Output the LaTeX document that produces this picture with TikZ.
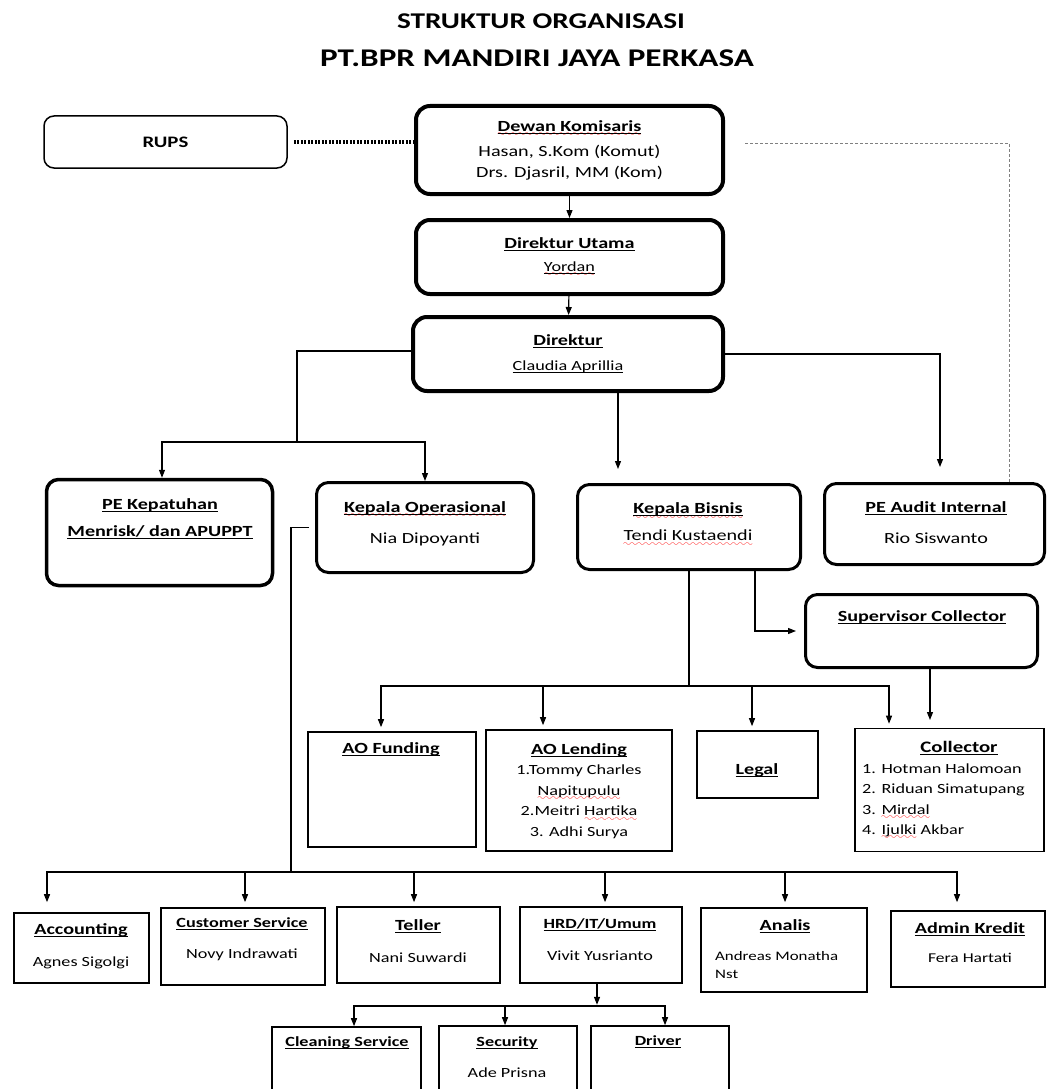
\documentclass[tikz,border=0pt]{standalone}
\usepackage{fontspec}
\setmainfont{Carlito}[FakeStretch=1.3]
\usetikzlibrary{arrows.meta,positioning}

\font\tenly=lasy10
\newbox\sqbox
\newcommand\undl[1]{\setbox\sqbox\hbox{#1}\leavevmode\rlap{\rule[-2.4pt]{\wd\sqbox}{0.9pt}}\box\sqbox}
\newcommand\redsq[1]{\setbox\sqbox\hbox{#1}\leavevmode\rlap{\textcolor{red}{\lower5.2pt\hbox to\wd\sqbox{\xleaders\hbox{\tenly\char58}\hfil}}}\box\sqbox}
\newcommand\fsz[1]{\fontsize{#1}{20.5}\selectfont}

\begin{document}
\begin{tikzpicture}[x=1pt,y=-1pt,
  bigbox/.style={draw,rounded corners=14pt,line width=4pt},
  midbox/.style={draw,rounded corners=12pt,line width=3pt},
  flatbox/.style={draw,line width=1.6pt},
  txt/.style={align=center,font=\fsz{15.5}},
  sml/.style={align=center,font=\fsz{14}},
  conn/.style={line width=1.2pt},
  arr/.style={line width=1.2pt,-{Triangle[length=8pt,width=6pt]}},
  dotline/.style={line width=3pt,dash pattern=on 2pt off 1.5pt},
  dashline/.style={line width=0.9pt,gray,dash pattern=on 3pt off 2pt},
  every node/.style={inner sep=0pt}]

\fill[white] (0,0) rectangle (1048,1089);
\useasboundingbox (0,0) rectangle (1048,1089);
\clip (0,0) rectangle (1048,1089);

% judul
\node[font=\bfseries\fsz{22.5}] (judul) at (541,21) {STRUKTUR ORGANISASI};
\node[font=\bfseries\fsz{25.5}] (pt) at (537,58) {PT.BPR MANDIRI JAYA PERKASA};

% pimpinan
\node[draw,rounded corners=10pt,line width=1.5pt,minimum width=243pt,minimum height=52pt,font=\bfseries\fsz{16}] (rups) at (165.5,142) {RUPS};
\node[bigbox,minimum width=307pt,minimum height=88pt,txt] (dewan) at (569.5,150) {\redsq{\undl{\textbf{Dewan Komisaris}}}\\[5pt]Hasan, S.Kom (Komut)\\Drs. Djasril, MM (Kom)};
\node[bigbox,minimum width=307pt,minimum height=74pt,txt] (dirut) at (569.5,257) {\undl{\textbf{Direktur Utama}}\\[3pt]{\fsz{14}\redsq{\undl{Yordan}}}};
\node[bigbox,minimum width=310pt,minimum height=74pt,txt] (dir) at (568,354) {\undl{\textbf{Direktur}}\\[4.5pt]{\fsz{14}\undl{Claudia Aprillia}}};

% kepala
\node[midbox,line width=3.5pt,minimum width=226pt,minimum height=106pt] (kep) at (159.5,532.5) {};
\node[txt,font=\bfseries\fsz{15.5}] (kep-t) at (160,518.5) {\undl{PE Kepatuhan}\\[6.5pt]\undl{Menrisk/ dan APUPPT}};
\node[midbox,minimum width=217pt,minimum height=90pt] (kops) at (425,527.5) {};
\node[txt] (kops-t) at (425,523.5) {\redsq{\undl{\textbf{Kepala Operasional}}}\\[10.5pt]Nia Dipoyanti};
\node[midbox,minimum width=223pt,minimum height=85pt] (kbis) at (689,527) {};
\node[txt] (kbis-t) at (688,524.5) {\redsq{\undl{\textbf{Kepala Bisnis}}}\\[6.5pt]\redsq{Tendi Kustaendi}};
\node[midbox,minimum width=220pt,minimum height=81pt] (audit) at (934.5,524) {};
\node[txt] (audit-t) at (936,522.5) {\undl{\textbf{PE Audit Internal}}\\[10.5pt]Rio Siswanto};
\node[midbox,minimum width=232pt,minimum height=73pt] (sup) at (921.5,631) {};
\node[txt] (sup-t) at (922,617) {\undl{\textbf{Supervisor Collector}}};

% bisnis
\node[flatbox,minimum width=168pt,minimum height=115pt] (aof) at (392,789.5) {};
\node[txt] (aof-t) at (391,749) {\undl{\textbf{AO Funding}}};
\node[flatbox,minimum width=186pt,minimum height=121pt] (aol) at (579,790.5) {};
\node[sml] (aol-t) at (579,791) {{\fsz{15.5}\undl{\textbf{AO Lending}}}\\1.Tommy Charles\\\redsq{Napitupulu}\\2.Meitri \redsq{Hartika}\\3. Adhi Surya};
\node[flatbox,minimum width=121pt,minimum height=67pt] (legal) at (757.5,764.5) {};
\node[txt] (legal-t) at (757,770) {\undl{\textbf{Legal}}};
\node[flatbox,minimum width=189pt,minimum height=123pt] (coll) at (949.5,790) {};
\node[txt,font=\fsz{16}] (coll-t) at (959,748) {\undl{\textbf{Collector}}};
\node[sml,align=left,anchor=west] (coll-n) at (862,801.5) {1. Hotman Halomoan\\2. Riduan Simatupang\\3. \redsq{Mirdal}\\4. \redsq{Ijulki} Akbar};

% operasional
\node[flatbox,minimum width=135pt,minimum height=70pt] (acc) at (81.5,948) {};
\node[txt] (acc-t) at (81,946) {\undl{\textbf{Accounting}}\\[11pt]{\fsz{14}Agnes Sigolgi}};
\node[flatbox,minimum width=164pt,minimum height=77pt] (cs) at (243,946.5) {};
\node[sml] (cs-t) at (242,939) {\undl{\textbf{Customer Service}}\\[11pt]Novy Indrawati};
\node[flatbox,minimum width=163pt,minimum height=76pt] (tel) at (418.5,945) {};
\node[txt] (tel-t) at (418,941) {\undl{\textbf{Teller}}\\[11pt]{\fsz{14}Nani Suwardi}};
\node[flatbox,minimum width=162pt,minimum height=76pt] (hrd) at (601,945) {};
\node[sml] (hrd-t) at (600,939.5) {\undl{\textbf{HRD/IT/Umum}}\\[12pt]Vivit Yusrianto};
\node[flatbox,minimum width=166pt,minimum height=84pt] (ana) at (784,950) {};
\node[txt] (ana-t) at (785,926) {\undl{\textbf{Analis}}};
\node[align=left,anchor=west,font=\fontsize{13}{18}\selectfont] (ana-n) at (715,965) {Andreas Monatha\\Nst};
\node[flatbox,minimum width=154pt,minimum height=76pt] (adm) at (968,949) {};
\node[txt] (adm-t) at (970,942.5) {\undl{\textbf{Admin Kredit}}\\[8.5pt]{\fsz{13.5}Fera Hartati}};
\node[flatbox,minimum width=149pt,minimum height=86pt] (cls) at (346.5,1070) {};
\node[sml] (cls-t) at (347,1043) {\undl{\textbf{Cleaning Service}}};
\node[flatbox,minimum width=138pt,minimum height=86pt] (sec) at (508,1069) {};
\node[sml] (sec-t) at (507,1057.5) {\undl{\textbf{Security}}\\[10.5pt]Ade Prisna};
\node[flatbox,minimum width=138pt,minimum height=86pt] (drv) at (660,1069) {};
\node[sml] (drv-t) at (658,1042) {\undl{\textbf{Driver}}};

% garis
\draw[dotline] ([xshift=6pt]rups.east) -- (dewan.west |- rups.east);
\coordinate (dsh) at (745,143);
\draw[dashline] (dsh) -| ([xshift=74.5pt]audit.north);
\draw[arr] (dewan) -- (dirut);
\draw[arr] (dirut) -- (dir);

\coordinate (kiri) at (297,442);
\draw[conn] ([yshift=3pt]dir.west) -| (kiri);
\draw[arr] (kiri) -| ([xshift=2.5pt]kep.north);
\draw[arr] (kiri) -| (kops.north);
\draw[arr] ([xshift=50pt]dir.south) -- ++(0,76);
\draw[arr,shorten >=15pt] (dir.east) -| ([xshift=5.5pt]audit.north);

\draw[arr,shorten >=8pt] ([xshift=66pt]kbis.south) |- (sup.west);
\coordinate (bisbus) at (689,686);
\draw[conn] (kbis.south) -- (bisbus);
\foreach \n/\s in {aof/-11,aol/-36,legal/-5.5,coll/-60.5}
  \draw[arr,shorten >=4pt] (bisbus) -| ([xshift=\s pt]\n.north);
\draw[arr] ([xshift=8.5pt]sup.south) -- ++(0,51);

\coordinate (opsbus) at (291,872);
\draw[conn,shorten <=6pt] (kops.west) -| (opsbus);
\foreach \n/\s/\g in {acc/-34.5/10,cs/2/5,tel/-4.5/4,hrd/4/4,ana/1/5,adm/-11/8}
  \draw[arr,shorten >=\g pt] (opsbus) -| ([xshift=\s pt]\n.north);

\draw[arr] ([xshift=-4pt]hrd.south) -- ++(0,21);
\coordinate (hrdbus) at (597,1006);
\foreach \n/\s in {cls/7.5,sec/-3,drv/5}
  \draw[arr] (hrdbus) -| ([xshift=\s pt]\n.north);
\end{tikzpicture}
\end{document}
